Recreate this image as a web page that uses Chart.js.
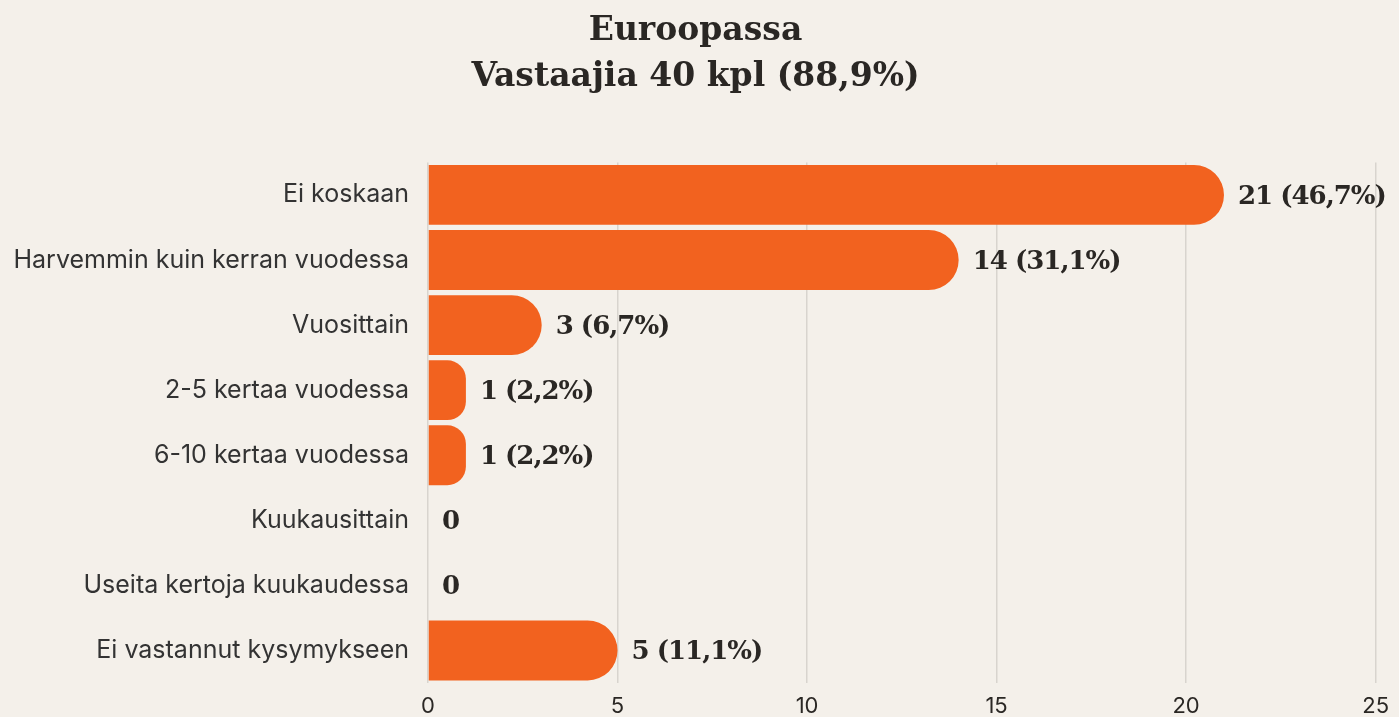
<!DOCTYPE html>
<html>
<head>
<meta charset="utf-8">
<script src="https://cdn.jsdelivr.net/npm/chart.js@4"></script>
<style>
  html, body { margin: 0; padding: 0; background: #f4f0ea; }
  #wrap { width: 1399px; height: 717px; }
</style>
</head>
<body>
<div id="wrap"><canvas id="chart" width="1399" height="717"></canvas></div>
<script>
// ===== Data =====
const categories = [
  "Ei koskaan",
  "Harvemmin kuin kerran vuodessa",
  "Vuosittain",
  "2-5 kertaa vuodessa",
  "6-10 kertaa vuodessa",
  "Kuukausittain",
  "Useita kertoja kuukaudessa",
  "Ei vastannut kysymykseen",
];
const counts = [21, 14, 3, 1, 1, 0, 0, 5];
const percents = ["46,7%", "31,1%", "6,7%", "2,2%", "2,2%", "", "", "11,1%"];
const xTicks = [0, 5, 10, 15, 20, 25];
const titleLines = ["Euroopassa", "Vastaajia 40 kpl (88,9%)"];

const ORANGE = "#f2621f";
const TEXT = "#2a2724";
const SERIF = "'DejaVu Serif', serif";

// ===== Value labels at bar ends =====
const valueLabels = {
  id: "valueLabels",
  afterDatasetsDraw(chart) {
    const ctx = chart.ctx;
    const meta = chart.getDatasetMeta(0);
    ctx.save();
    ctx.font = "bold 26px " + SERIF;
    ctx.letterSpacing = "-1px";
    ctx.fillStyle = TEXT;
    ctx.textAlign = "left";
    ctx.textBaseline = "middle";
    meta.data.forEach((bar, i) => {
      const txt = percents[i] ? `${counts[i]} (${percents[i]})` : `${counts[i]}`;
      ctx.fillText(txt, bar.x + 14, bar.y + 2);
    });
    ctx.restore();
  },
};

new Chart(document.getElementById("chart"), {
  type: "bar",
  data: {
    labels: categories,
    datasets: [
      {
        data: counts,
        backgroundColor: ORANGE,
        borderRadius: 40,
        borderSkipped: "start",
        barPercentage: 0.92,
        categoryPercentage: 1,
      },
    ],
  },
  options: {
    indexAxis: "y",
    responsive: false,
    animation: false,
    layout: { padding: { left: 12, right: 20, top: 8, bottom: 0 } },
    plugins: {
      legend: { display: false },
      tooltip: { enabled: false },
      title: {
        display: true,
        text: titleLines,
        color: TEXT,
        font: { family: SERIF, size: 33, weight: "bold", lineHeight: 1.4 },
        padding: { top: 0, bottom: 62 },
      },
    },
    scales: {
      x: {
        min: 0,
        max: 25,
        afterBuildTicks: (axis) => {
          axis.ticks = xTicks.map((v) => ({ value: v }));
        },
        afterFit: (scale) => {
          scale.height = 33;
        },
        grid: { color: "#d8d4ce", lineWidth: 1.5, drawTicks: false },
        border: { display: false },
        ticks: {
          color: TEXT,
          padding: 10,
          font: { family: "Inter, sans-serif", size: 22 },
        },
      },
      y: {
        afterFit: (scale) => {
          scale.width = 416;
        },
        grid: { display: false, drawTicks: false },
        border: { display: false },
        ticks: {
          color: "#333",
          padding: 19,
          font: { family: "Inter, sans-serif", size: 25 },
        },
      },
    },
  },
  plugins: [valueLabels],
});
</script>
</body>
</html>
